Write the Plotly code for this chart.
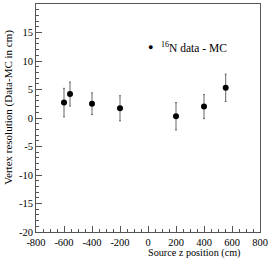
import plotly.graph_objects as go

z_pos = [-600, -557, -400, -200, 200, 400, 555]
resolution = [2.7, 4.2, 2.5, 1.7, 0.3, 2.0, 5.3]
err = [2.5, 2.1, 1.9, 2.2, 2.4, 2.1, 2.4]
series_name = "<sup>16</sup>N data - MC"
x_ticks = [-800, -600, -400, -200, 0, 200, 400, 600, 800]
y_ticks = [-20, -15, -10, -5, 0, 5, 10, 15, 20]

FONT = "Liberation Serif, Times New Roman, serif"
AX = "#555555"

fig = go.Figure()
fig.add_trace(go.Scatter(
    x=z_pos, y=resolution, mode="markers",
    marker=dict(color="black", size=6),
    error_y=dict(type="data", array=err, color="#666666", thickness=1, width=1),
    showlegend=False,
))

axis_common = dict(
    showgrid=False, zeroline=False, showline=True, linecolor=AX, linewidth=1,
    mirror=True, ticks="inside", ticklen=6, tickcolor=AX, tickwidth=1,
    tickfont=dict(family=FONT, size=10.5, color="black"),
)
fig.update_xaxes(range=[-800, 800], tickvals=x_ticks, ticktext=[str(v) for v in x_ticks],
                 minor=dict(dtick=50, ticklen=3, tickcolor=AX, ticks="inside"),
                 **axis_common)
fig.update_yaxes(range=[-20, 20], tickvals=y_ticks, ticktext=[str(v) for v in y_ticks],
                 minor=dict(dtick=1, ticklen=3, tickcolor=AX, ticks="inside"),
                 **axis_common)

fig.add_annotation(text="Source z position (cm)", xref="paper", yref="paper",
                   x=0.925, y=-0.093, xanchor="right", yanchor="middle", showarrow=False,
                   font=dict(family=FONT, size=10.2, color="black"))
fig.add_annotation(text="Vertex resolution (Data-MC in cm)", xref="paper", yref="paper",
                   x=-0.124, y=0.895, xanchor="center", yanchor="top", textangle=-90,
                   showarrow=False, font=dict(family=FONT, size=11, color="black"))
# legend
fig.add_annotation(text="●", xref="paper", yref="paper", x=0.513, y=0.81,
                   xanchor="center", yanchor="middle", showarrow=False,
                   font=dict(family=FONT, size=9, color="black"))
fig.add_annotation(text=series_name, xref="paper", yref="paper", x=0.548, y=0.81,
                   xanchor="left", yanchor="middle", showarrow=False,
                   font=dict(family=FONT, size=11.5, color="black"))

fig.update_layout(width=271, height=258, margin=dict(l=36, r=9, t=3, b=26),
                  plot_bgcolor="white", paper_bgcolor="white")
fig.write_html("out.html", config={"displayModeBar": False},
               post_script="document.body.style.margin='0';document.body.style.overflow='hidden';")
